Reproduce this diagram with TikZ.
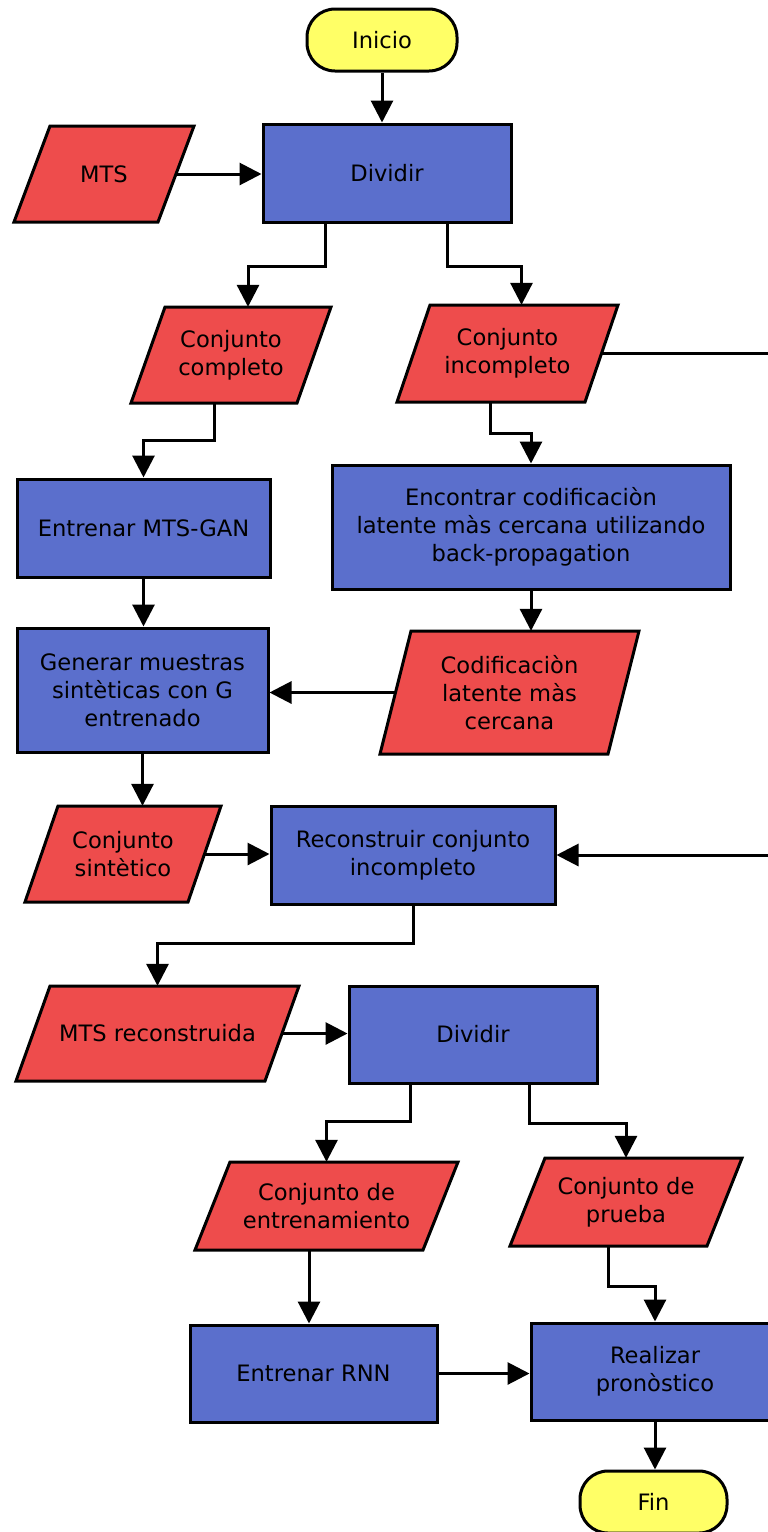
\documentclass[tikz,border=0pt]{standalone}
\usepackage{fontspec}
\setmainfont{DejaVu Sans}
\usetikzlibrary{arrows.meta,calc}
\definecolor{procblue}{RGB}{91,111,204}
\definecolor{datared}{RGB}{238,76,76}
\definecolor{termyellow}{RGB}{255,255,102}
% data symbol: slanted box drawn first, text node (named) placed on top
% #1 name, #2 x, #3 y, #4 total width, #5 height, #6 slant, #7 text
\newcommand{\datasym}[7]{%
  \draw[datashape] (#2-#4/2, #3+#5/2) -- (#2-#4/2+#6, #3-#5/2)
    -- (#2+#4/2, #3-#5/2) -- (#2+#4/2-#6, #3+#5/2) -- cycle;
  \node[datatext, minimum width=#4-#6, minimum height=#5] (#1) at (#2,#3) {#7};
}
\begin{document}
\begin{tikzpicture}[x=1pt,y=-1pt,
  base/.style={draw=black, line width=3pt, inner sep=0pt, align=center,
    font=\fontsize{22.6}{28}\selectfont},
  terminal/.style={base, fill=termyellow, rectangle, rounded corners=28pt,
    minimum width=150pt, minimum height=62pt},
  process/.style={base, fill=procblue, rectangle},
  datashape/.style={draw=black, fill=datared, line width=3pt, line join=miter},
  datatext/.style={rectangle, inner sep=0pt, align=center,
    font=\fontsize{22.6}{28}\selectfont},
  arr/.style={draw=black, line width=3pt,
    -{Triangle[length=22pt,width=22pt]}}
]
\clip (0,0) rectangle (768,1532);
\fill[white] (0,0) rectangle (768,1532);

% nodes
\node[terminal] (inicio) at (382,40) {Inicio};
\node[process, minimum width=248pt, minimum height=98pt] (div1) at (387,173) {Dividir};
\datasym{mts}{104}{174}{180}{96}{36}{MTS}
\datasym{completo}{231}{355}{200}{96}{34}{Conjunto\\completo}
\datasym{incompleto}{507.5}{353.5}{221}{97}{33}{Conjunto\\incompleto}
\node[process, minimum width=253pt, minimum height=98pt] (mtsgan) at (143.5,528) {Entrenar MTS-GAN};
\node[process, minimum width=398pt, minimum height=124pt] (encontrar) at (531,527)
  {Encontrar codificaciòn\\latente màs cercana utilizando\\back-propagation};
\node[process, minimum width=251pt, minimum height=124pt] (generar) at (142.5,690)
  {Generar muestras\\sintèticas con G\\entrenado};
\datasym{codif}{509.5}{692.5}{259}{123}{31}{Codificaciòn\\latente màs\\cercana}
\datasym{sintetico}{123}{854}{196}{96}{33}{Conjunto\\sintètico}
\node[process, minimum width=284pt, minimum height=98pt] (reconstruir) at (413,855)
  {Reconstruir conjunto\\incompleto};
\datasym{mtsrec}{157.5}{1033.5}{283}{95}{34}{MTS reconstruida}
\node[process, minimum width=248pt, minimum height=97pt] (div2) at (473,1034.5) {Dividir};
\datasym{entrenamiento}{326.5}{1206}{263}{88}{35}{Conjunto de\\entrenamiento}
\datasym{prueba}{626}{1202}{232}{88}{35}{Conjunto de\\prueba}
\node[process, minimum width=247pt, minimum height=97pt] (rnn) at (313.5,1373.5) {Entrenar RNN};
\node[process, minimum width=248pt, minimum height=97pt] (realizar) at (655,1371.5)
  {Realizar\\pronòstico};
\node[terminal, minimum width=147pt] (fin) at (653.5,1502) {Fin};

% connectors
\draw[arr] (inicio.south) -- (inicio.south |- div1.north);
\draw[arr] (mts.east) -- (mts.east -| div1.west);
\draw[arr] ([xshift=-62pt]div1.south) -- ++(0,43) -| ([xshift=17pt]completo.north);
\draw[arr] ([xshift=60pt]div1.south) -- ++(0,43) -| ([xshift=14pt]incompleto.north);
\draw[arr] (incompleto.east) -- ++(220,0) |- (reconstruir.east);
\draw[arr] ([xshift=-17pt]completo.south) -- ++(0,37) -| (mtsgan.north);
\draw[arr] ([xshift=-17pt]incompleto.south) -- ++(0,31) -| (encontrar.north);
\draw[arr] (mtsgan.south) -- (mtsgan.south |- generar.north);
\draw[arr] (encontrar.south) -- (encontrar.south |- codif.north);
\draw[arr] (codif.west) -- (codif.west -| generar.east);
\draw[arr] (generar.south) -- (generar.south |- sintetico.north);
\draw[arr] (sintetico.east) -- (sintetico.east -| reconstruir.west);
\draw[arr] (reconstruir.south) -- ++(0,38) -| (mtsrec.north);
\draw[arr] (mtsrec.east) -- (mtsrec.east -| div2.west);
\draw[arr] ([xshift=-63pt]div2.south) -- ++(0,37) -| (entrenamiento.north);
\draw[arr] ([xshift=56pt]div2.south) -- ++(0,39) -| (prueba.north);
\draw[arr] ([xshift=-17.5pt]entrenamiento.south) -- ([xshift=-17.5pt]entrenamiento.south |- rnn.north);
\draw[arr] ([xshift=-17.5pt]prueba.south) -- ++(0,40) -| (realizar.north);
\draw[arr] (rnn.east) -- (rnn.east -| realizar.west);
\draw[arr] (realizar.south) -- (realizar.south |- fin.north);
\end{tikzpicture}
\end{document}
